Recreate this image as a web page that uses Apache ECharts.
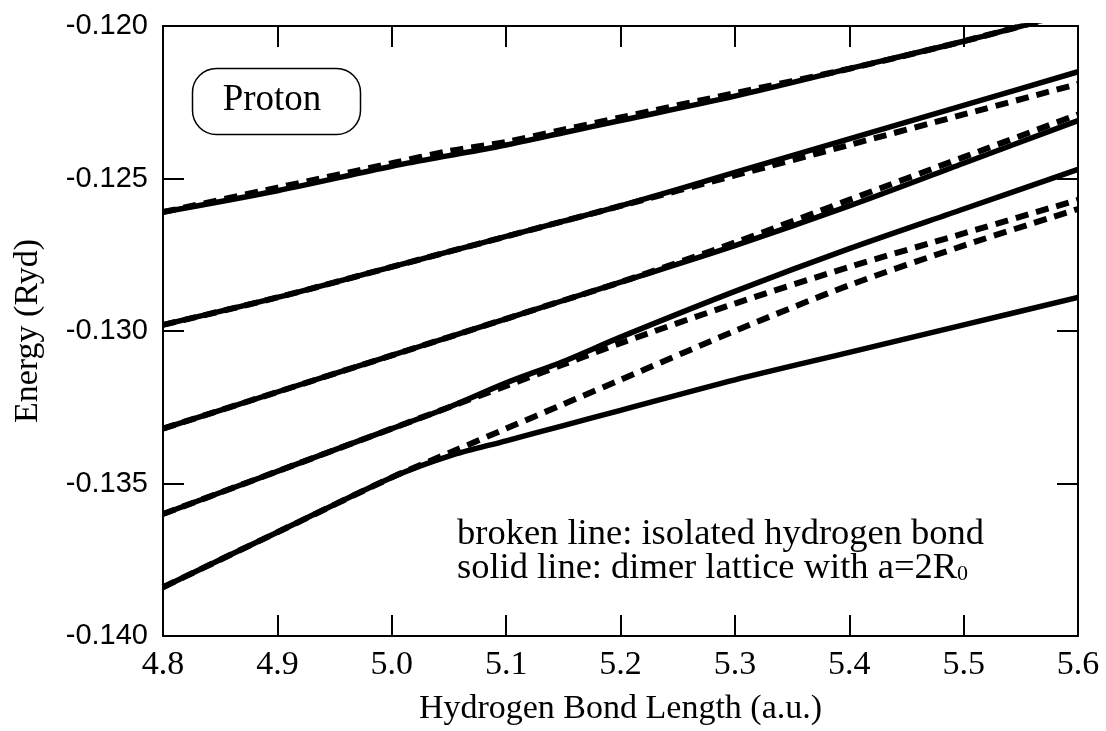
<!DOCTYPE html>
<html>
<head>
<meta charset="utf-8">
<script src="https://cdn.jsdelivr.net/npm/echarts@6/dist/echarts.min.js"></script>
<style>
  html, body { margin: 0; padding: 0; background: #fff; }
  #chart { width: 1106px; height: 731px; }
</style>
</head>
<body>
<div id="chart"></div>
<script>
// hydrogen bond length (a.u.)
var bondLength = [4.8, 4.9, 5.0, 5.05, 5.1, 5.15, 5.2, 5.3, 5.4, 5.5, 5.6];

// solid line: dimer lattice with a=2R0
var latticeA = [-0.1261, -0.1254, -0.1246, -0.12425, -0.1239, -0.1235, -0.1231, -0.1223, -0.1214, -0.1205, -0.1195];
var latticeB = [-0.1298, -0.1289, -0.1279, -0.1274, -0.1269, -0.1264, -0.1259, -0.1248, -0.1237, -0.1226, -0.1215];
var latticeC = [-0.1332, -0.1320, -0.1308, -0.1302, -0.1296, -0.1290, -0.1284, -0.1272, -0.1259, -0.1245, -0.1231];
var latticeD = [-0.1360, -0.1346, -0.1332, -0.1325, -0.1317, -0.1310, -0.1302, -0.1287, -0.1273, -0.1260, -0.1247];
var latticeE = [-0.1384, -0.1366, -0.1348, -0.1341, -0.1336, -0.1331, -0.1326, -0.1316, -0.1307, -0.1298, -0.1289];

// broken line: isolated hydrogen bond
var isolatedA = [-0.1261, -0.1253, -0.1245, -0.1241, -0.1238, -0.1234, -0.1230, -0.1222, -0.1214, -0.1205, -0.1195];
var isolatedB = [-0.1298, -0.1289, -0.1279, -0.1274, -0.1269, -0.1264, -0.1259, -0.1249, -0.1239, -0.1229, -0.1219];
var isolatedC = [-0.1332, -0.1320, -0.1308, -0.1302, -0.1296, -0.1290, -0.1284, -0.1271, -0.1257, -0.1243, -0.1229];
var isolatedU = [-0.1360, -0.1346, -0.1332, -0.1325, -0.1318, -0.1311, -0.1304, -0.1291, -0.1279, -0.1268, -0.1257];
var isolatedL = [-0.1384, -0.1366, -0.1348, -0.1340, -0.1332, -0.1324, -0.1316, -0.1300, -0.1285, -0.1272, -0.1260];

var xTicks = { min: 4.8, max: 5.6, step: 0.1 };
var yTicks = { min: -0.140, max: -0.120, step: 0.005 };

var serif = '"Liberation Serif", "DejaVu Serif", serif';

function pairs(ys) {
    return bondLength.map(function (x, i) { return [x, ys[i]]; });
}

function solid(ys) {
    return {
        type: 'line', data: pairs(ys), smooth: 0.3, symbol: 'none', silent: true,
        lineStyle: { color: '#000', width: 5.5 }
    };
}

function broken(ys) {
    return {
        type: 'line', data: pairs(ys), smooth: 0.3, symbol: 'none', silent: true,
        lineStyle: { color: '#000', width: 6, type: [13, 8], cap: 'butt' }
    };
}

var axisLine = { show: true, onZero: false, lineStyle: { color: '#000', width: 2 } };
var tickIn = { show: true, inside: true, length: 21, lineStyle: { color: '#000', width: 2 } };

var chart = echarts.init(document.getElementById('chart'), null, { renderer: 'canvas' });
chart.setOption({
    backgroundColor: '#fff',
    animation: false,
    grid: { left: 163, top: 26, right: 28, bottom: 93, containLabel: false },
    xAxis: [
        {
            type: 'value', min: xTicks.min, max: xTicks.max, interval: xTicks.step,
            position: 'bottom',
            axisLine: axisLine, axisTick: tickIn, splitLine: { show: false },
            axisLabel: {
                color: '#000', fontFamily: serif, fontSize: 34, margin: 12,
                formatter: function (v) { return v.toFixed(1); }
            },
            name: 'Hydrogen Bond Length (a.u.)', nameLocation: 'middle', nameGap: 56,
            nameTextStyle: { color: '#000', fontFamily: serif, fontSize: 34 }
        },
        {
            type: 'value', min: xTicks.min, max: xTicks.max, interval: xTicks.step,
            position: 'top',
            axisLine: axisLine, axisTick: tickIn, splitLine: { show: false },
            axisLabel: { show: false }
        }
    ],
    yAxis: [
        {
            type: 'value', min: yTicks.min, max: yTicks.max, interval: yTicks.step,
            position: 'left',
            axisLine: axisLine, axisTick: tickIn, splitLine: { show: false },
            axisLabel: {
                color: '#000', fontFamily: '"Liberation Sans", Arial, sans-serif', fontSize: 29, margin: 15,
                formatter: function (v) { return v.toFixed(3); }
            },
            name: 'Energy (Ryd)', nameLocation: 'middle', nameGap: 118, nameRotate: 90,
            nameTextStyle: { color: '#000', fontFamily: serif, fontSize: 34 }
        },
        {
            type: 'value', min: yTicks.min, max: yTicks.max, interval: yTicks.step,
            position: 'right',
            axisLine: axisLine, axisTick: tickIn, splitLine: { show: false },
            axisLabel: { show: false }
        }
    ],
    graphic: [
        {
            type: 'rect', left: 190, top: 66, silent: true,
            shape: { width: 168, height: 66, r: 24 },
            style: { fill: 'none', stroke: '#000', lineWidth: 1.5 }
        },
        {
            type: 'text', x: 272, y: 100, silent: true,
            style: { text: 'Proton', fill: '#000', font: '37px ' + serif, align: 'center', verticalAlign: 'middle' }
        },
        {
            type: 'text', x: 457, y: 534, silent: true,
            style: { text: 'broken line: isolated hydrogen bond', fill: '#000', font: '36.5px ' + serif, verticalAlign: 'middle' }
        },
        {
            type: 'text', x: 457, y: 550, silent: true,
            style: {
                text: '{m|solid line: dimer lattice with a=2R}{s|0}',
                fill: '#000', verticalAlign: 'top',
                rich: {
                    m: { fontFamily: serif, fontSize: 36.5, lineHeight: 33, verticalAlign: 'top', fill: '#000' },
                    s: { fontFamily: serif, fontSize: 22, lineHeight: 22, padding: [16, 0, 0, 0], fill: '#000' }
                }
            }
        }
    ],
    series: [
        broken(isolatedA), broken(isolatedB), broken(isolatedC), broken(isolatedU), broken(isolatedL),
        solid(latticeA), solid(latticeB), solid(latticeC), solid(latticeD), solid(latticeE)
    ]
});
</script>
</body>
</html>
